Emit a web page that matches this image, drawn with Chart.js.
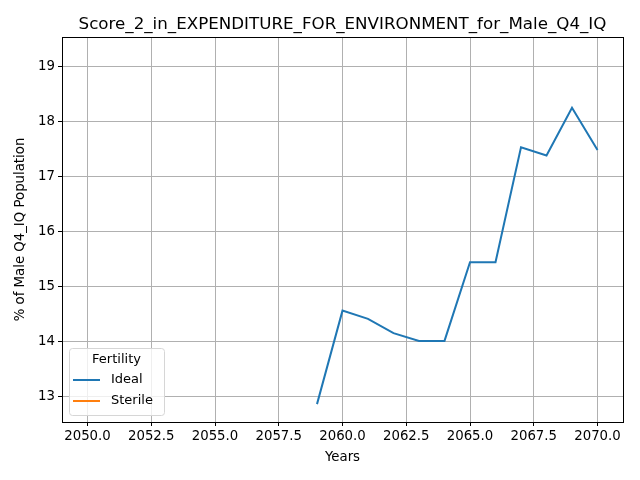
<!DOCTYPE html>
<html>
<head>
<meta charset="utf-8">
<script src="https://cdn.jsdelivr.net/npm/chart.js@4.4.0/dist/chart.umd.min.js"></script>
<style>
  html, body { margin: 0; padding: 0; background: #fff; }
  #wrap { width: 640px; height: 480px; }
</style>
</head>
<body>
<div id="wrap"><canvas id="myChart" width="640" height="480"></canvas></div>
<script>
// chart values
const years = [2059, 2060, 2061, 2062, 2063, 2064, 2065, 2066, 2067, 2068, 2069, 2070];
const ideal = [12.87, 14.57, 14.42, 14.16, 14.02, 14.02, 15.45, 15.45, 17.54, 17.39, 18.26, 17.49];
const sterile = []; // no visible values
const yTicks = [13, 14, 15, 16, 17, 18, 19];
const xTicks = [2050, 2052.5, 2055, 2057.5, 2060, 2062.5, 2065, 2067.5, 2070];

const FONT = 'DejaVu Sans';
Chart.defaults.font.family = FONT;
Chart.defaults.color = '#000';

function toPoints(xs, ys) {
    return ys.map((v, i) => ({ x: xs[i], y: v }));
}

// axes box, title and an in-plot legend, matplotlib style
const mplPlugin = {
    id: 'mplPlugin',
    afterDraw(chart) {
        const ctx = chart.ctx;
        const a = chart.chartArea;
        ctx.save();
        ctx.strokeStyle = '#000';
        ctx.lineWidth = 1;
        ctx.strokeRect(Math.round(a.left) + 0.5, Math.round(a.top) + 0.5,
            Math.round(a.right - a.left), Math.round(a.bottom - a.top));

        // title
        ctx.fillStyle = '#000';
        ctx.font = '16.7px ' + FONT;
        ctx.textAlign = 'center';
        ctx.textBaseline = 'alphabetic';
        ctx.fillText('Score_2_in_EXPENDITURE_FOR_ENVIRONMENT_for_Male_Q4_IQ', (a.left + a.right) / 2, 29);

        // legend
        const bx = a.left + 7, by = a.bottom - 74, bw = 95, bh = 67;
        ctx.beginPath();
        ctx.roundRect(bx + 0.5, by + 0.5, bw, bh, 3);
        ctx.fillStyle = 'rgba(255,255,255,0.8)';
        ctx.fill();
        ctx.strokeStyle = '#d6d6d6';
        ctx.stroke();
        ctx.fillStyle = '#000';
        ctx.font = '13px ' + FONT;
        ctx.textAlign = 'center';
        ctx.textBaseline = 'middle';
        ctx.fillText('Fertility', bx + bw / 2, by + 12);
        ctx.textAlign = 'left';
        chart.data.datasets.forEach((ds, i) => {
            const ly = by + 32 + i * 21;
            ctx.beginPath();
            ctx.moveTo(bx + 4, ly);
            ctx.lineTo(bx + 31, ly);
            ctx.strokeStyle = ds.borderColor;
            ctx.lineWidth = 2;
            ctx.stroke();
            ctx.fillText(ds.label, bx + 42, ly);
        });
        ctx.restore();
    }
};

const ctx = document.getElementById('myChart').getContext('2d');
const chart = new Chart(ctx, {
    type: 'line',
    data: {
        datasets: [{
            label: 'Ideal',
            data: toPoints(years, ideal),
            borderColor: '#1f77b4',
            borderWidth: 2,
            pointRadius: 0,
            fill: false,
            tension: 0
        }, {
            label: 'Sterile',
            data: toPoints(years, sterile),
            borderColor: '#ff7f0e',
            borderWidth: 2,
            pointRadius: 0,
            fill: false
        }]
    },
    options: {
        responsive: false,
        animation: false,
        devicePixelRatio: 1,
        layout: { padding: { left: 0, right: 17, top: 37, bottom: 0 } },
        plugins: {
            legend: { display: false },
            tooltip: { enabled: false }
        },
        scales: {
            x: {
                type: 'linear',
                min: 2049,
                max: 2071,
                afterBuildTicks: (s) => { s.ticks = xTicks.map(v => ({ value: v })); },
                afterFit: (s) => { s.height = 58; },
                ticks: {
                    callback: (v) => v.toFixed(1),
                    maxRotation: 0,
                    autoSkip: false,
                    padding: 3,
                    font: { size: 13.3 }
                },
                grid: { color: '#b0b0b0', lineWidth: 1, tickLength: 4, tickColor: '#000' },
                border: { display: false },
                title: { display: true, text: 'Years', font: { size: 13.3 }, padding: { top: 2, bottom: 14 } }
            },
            y: {
                min: 12.545,
                max: 19.545,
                afterBuildTicks: (s) => { s.ticks = yTicks.map(v => ({ value: v })); },
                afterFit: (s) => { s.width = 62; },
                ticks: {
                    callback: (v) => String(v),
                    padding: 3,
                    font: { size: 13.3 }
                },
                grid: { color: '#b0b0b0', lineWidth: 1, tickLength: 4, tickColor: '#000' },
                border: { display: false },
                title: { display: true, text: '% of Male Q4_IQ Population', font: { size: 13.3 }, padding: { bottom: 0, top: 13 } }
            }
        }
    },
    plugins: [mplPlugin]
});
</script>
</body>
</html>
